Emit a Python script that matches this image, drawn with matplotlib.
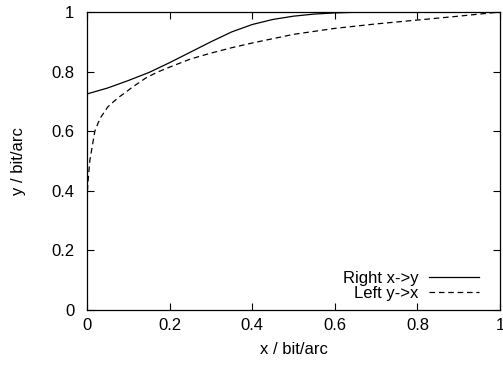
import matplotlib
matplotlib.use("Agg")
import matplotlib.pyplot as plt
from matplotlib.ticker import FuncFormatter, MultipleLocator

plt.rcParams["font.family"] = ["Liberation Sans", "DejaVu Sans"]
plt.rcParams["font.size"] = 12

# x -> y measure
right_x = [0.0, 0.05, 0.1, 0.15, 0.2, 0.25, 0.3, 0.35, 0.4, 0.45, 0.5, 0.55,
           0.6, 0.65, 0.7, 0.8, 0.9, 1.0]
right_y = [0.725, 0.745, 0.77, 0.797, 0.83, 0.865, 0.9, 0.933, 0.958, 0.975,
           0.986, 0.993, 0.997, 0.999, 1.0, 1.0, 1.0, 1.0]

# y -> x measure, steep near the origin
left_x = [0.001, 0.003, 0.007, 0.014, 0.019, 0.027, 0.034, 0.05, 0.065,
          0.078, 0.095, 0.11, 0.143, 0.17, 0.2, 0.25, 0.3, 0.35, 0.4, 0.5,
          0.6, 0.7, 0.8, 0.9, 1.0]
left_y = [0.40, 0.44, 0.503, 0.56, 0.60, 0.628, 0.648, 0.681, 0.70, 0.715,
          0.732, 0.748, 0.779, 0.798, 0.815, 0.842, 0.862, 0.88, 0.896,
          0.925, 0.945, 0.96, 0.973, 0.986, 1.0]

fig = plt.figure(figsize=(5.03, 3.65), dpi=100)
ax = fig.add_axes([87 / 503, 55 / 365, 413 / 503, 298 / 365])

ax.plot(right_x, right_y, color="black", lw=0.9, label="Right x->y")
ax.plot(left_x, left_y, color="black", lw=0.9, dashes=(4.5, 3),
        label="Left y->x")

ax.set_xlim(0, 1)
ax.set_ylim(0, 1)
ax.xaxis.set_major_locator(MultipleLocator(0.2))
ax.yaxis.set_major_locator(MultipleLocator(0.2))
fmt = FuncFormatter(lambda v, _: f"{v:g}")
ax.xaxis.set_major_formatter(fmt)
ax.yaxis.set_major_formatter(fmt)
ax.tick_params(axis="both", direction="in", length=5, width=0.8, top=True,
               right=True, labelsize=12)
ax.tick_params(axis="y", pad=9)
ax.tick_params(axis="x", pad=6)
for spine in ax.spines.values():
    spine.set_linewidth(0.9)

ax.set_xlabel("x / bit/arc", labelpad=6)
ax.set_ylabel("y / bit/arc", labelpad=18)

ax.legend(loc="lower right", bbox_to_anchor=(479 / 503, 64 / 365),
          bbox_transform=fig.transFigure, frameon=False, markerfirst=False,
          handlelength=3.0, handletextpad=0.65, labelspacing=0.0,
          borderpad=0, borderaxespad=0, fontsize=12)

fig.savefig("out.png", dpi=100)
